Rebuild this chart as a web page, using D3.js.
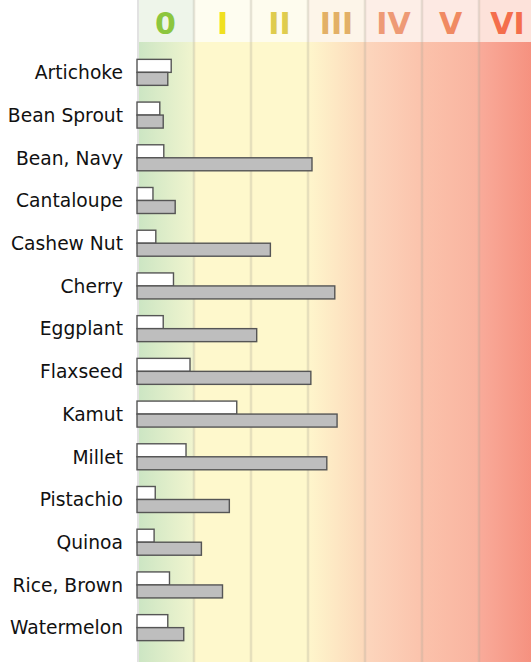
<!DOCTYPE html>
<html>
<head>
<meta charset="utf-8">
<script src="https://cdn.jsdelivr.net/npm/d3@7"></script>
<style>
  body { margin: 0; background: #fff; }
  svg { display: block; font-family: "DejaVu Sans", sans-serif; }
</style>
</head>
<body>
<div id="chart"></div>
<script>
let width = 531;
let height = 662;
let margin = ({ top: 42, left: 137, right: -5, bottom: 0 });

let foods = ["Artichoke", "Bean Sprout", "Bean, Navy", "Cantaloupe", "Cashew Nut", "Cherry", "Eggplant",
    "Flaxseed", "Kamut", "Millet", "Pistachio", "Quinoa", "Rice, Brown", "Watermelon"];
let valueA = [0.60, 0.40, 0.47, 0.28, 0.33, 0.64, 0.46, 0.93, 1.75, 0.86, 0.32, 0.30, 0.57, 0.54];
let valueB = [0.54, 0.46, 3.07, 0.67, 2.34, 3.47, 2.10, 3.05, 3.51, 3.33, 1.62, 1.13, 1.50, 0.82];
let levels = ["0", "I", "II", "III", "IV", "V", "VI"];

// colours per level: body gradient start / end, header tint, label colour
let zoneStart = ["#cbe5c3", "#fef8cc", "#fef8cc", "#fef6cc", "#fcd6bd", "#fbc2ab", "#f9ab9a"];
let zoneEnd = ["#f1f5cf", "#fef8cc", "#fef8cc", "#fcd8ba", "#fbc3ac", "#f9b4a0", "#f58f7d"];
let headTint = ["#eef5ea", "#fefdf0", "#fefcee", "#fdf5e9", "#fdeee7", "#fde9e3", "#fde2da"];
let labelColor = ["#8cc63e", "#f0e020", "#dfcc4e", "#e3b066", "#ee9a76", "#f08a62", "#f46e4c"];

let x = d3.scaleLinear()
    .domain([0, levels.length])
    .range([margin.left, margin.left + 57 * levels.length]);

let y = d3.scaleBand()
    .domain(foods)
    .range([51, 649]);

let svg = d3.select("#chart")
    .append("svg")
    .attr("width", width)
    .attr("height", height);

let defs = svg.append("defs");
levels.forEach((l, i) => {
    let g = defs.append("linearGradient")
        .attr("id", "zone" + i)
        .attr("gradientUnits", "userSpaceOnUse")
        .attr("x1", x(i)).attr("x2", x(i + 1))
        .attr("y1", 0).attr("y2", 0);
    g.append("stop").attr("offset", 0).attr("stop-color", zoneStart[i]);
    g.append("stop").attr("offset", 1).attr("stop-color", zoneEnd[i]);
});

// title sits mostly above the visible area
svg.append("text")
    .attr("x", 73)
    .attr("y", -4)
    .attr("text-anchor", "end")
    .attr("font-size", 22)
    .attr("font-weight", "bold")
    .text("Ranking");

// zone backgrounds
svg.append("g")
    .selectAll("rect")
    .data(levels)
    .join("rect")
    .attr("x", (d, i) => x(i))
    .attr("y", margin.top)
    .attr("width", x(1) - x(0))
    .attr("height", height - margin.top)
    .attr("fill", (d, i) => `url(#zone${i})`);

// header
svg.append("g")
    .selectAll("rect")
    .data(levels)
    .join("rect")
    .attr("x", (d, i) => x(i))
    .attr("y", 0)
    .attr("width", x(1) - x(0))
    .attr("height", margin.top)
    .attr("fill", (d, i) => headTint[i]);

svg.append("g")
    .selectAll("text")
    .data(levels)
    .join("text")
    .attr("x", (d, i) => x(i + 0.5))
    .attr("y", 34)
    .attr("text-anchor", "middle")
    .attr("font-size", 30)
    .attr("font-weight", "bold")
    .attr("fill", (d, i) => labelColor[i])
    .text(d => d);

// grid lines at zone edges
svg.append("g")
    .selectAll("line")
    .data(d3.range(1, levels.length))
    .join("line")
    .attr("x1", d => x(d))
    .attr("x2", d => x(d))
    .attr("y1", 0)
    .attr("y2", height)
    .attr("stroke", "#b0a898")
    .attr("stroke-opacity", 0.3)
    .attr("stroke-width", 2.5);

svg.append("line")
    .attr("x1", x(0) + 1)
    .attr("x2", x(0) + 1)
    .attr("y1", 0)
    .attr("y2", height)
    .attr("stroke", "#e2e2e2")
    .attr("stroke-width", 2);

let barH = 13;
let bars = svg.append("g")
    .attr("stroke", "#555")
    .attr("stroke-width", 1.4);

bars.selectAll(".a")
    .data(foods)
    .join("rect")
    .attr("class", "a")
    .attr("x", x(0))
    .attr("y", d => y(d) + y.bandwidth() / 2 - barH)
    .attr("width", (d, i) => x(valueA[i]) - x(0))
    .attr("height", barH)
    .attr("fill", "#fff");

bars.selectAll(".b")
    .data(foods)
    .join("rect")
    .attr("class", "b")
    .attr("x", x(0))
    .attr("y", d => y(d) + y.bandwidth() / 2)
    .attr("width", (d, i) => x(valueB[i]) - x(0))
    .attr("height", barH)
    .attr("fill", "#bebebe");

svg.append("g")
    .selectAll("text")
    .data(foods)
    .join("text")
    .attr("x", margin.left - 14)
    .attr("y", d => y(d) + y.bandwidth() / 2)
    .attr("dy", "0.36em")
    .attr("text-anchor", "end")
    .attr("font-size", 18.7)
    .attr("fill", "#111")
    .text(d => d);
</script>
</body>
</html>
